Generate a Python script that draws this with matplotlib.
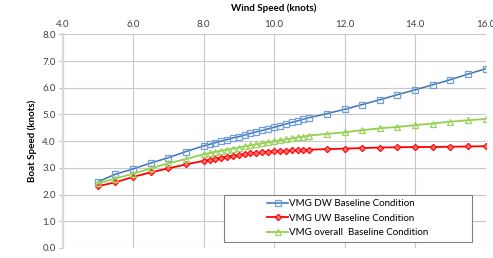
import matplotlib
matplotlib.use("Agg")
import matplotlib.pyplot as plt
from matplotlib.patches import Rectangle
from matplotlib.ticker import FormatStrFormatter, MultipleLocator

plt.rcParams["font.family"] = ["Lato", "DejaVu Sans"]

# wind speed (knots)
wind = [5.0, 5.5, 6.0, 6.5, 7.0, 7.5,
        8.0, 8.17, 8.33, 8.5, 8.67, 8.83, 9.0, 9.17, 9.33, 9.5,
        9.67, 9.83, 10.0, 10.17, 10.33, 10.5, 10.67, 10.83, 11.0,
        11.5, 12.0, 12.5, 13.0, 13.5, 14.0, 14.5, 15.0, 15.5, 16.0]

# boat speed (knots)
vmg_dw = [2.48, 2.76, 2.96, 3.18, 3.38, 3.61,
          3.82, 3.88, 3.94, 4.00, 4.06, 4.12, 4.17, 4.23, 4.29, 4.35,
          4.40, 4.46, 4.52, 4.58, 4.64, 4.70, 4.76, 4.82, 4.88,
          5.03, 5.19, 5.37, 5.55, 5.74, 5.92, 6.11, 6.30, 6.51, 6.71]

vmg_uw = [2.31, 2.46, 2.66, 2.83, 2.98, 3.13,
          3.26, 3.30, 3.34, 3.38, 3.42, 3.45, 3.48, 3.51, 3.54, 3.56,
          3.58, 3.60, 3.62, 3.63, 3.64, 3.65, 3.66, 3.67, 3.68,
          3.70, 3.72, 3.74, 3.76, 3.77, 3.78, 3.78, 3.79, 3.80, 3.81]

vmg_all = [2.42, 2.60, 2.78, 2.98, 3.17, 3.33,
           3.51, 3.55, 3.60, 3.64, 3.68, 3.72, 3.76, 3.80, 3.84, 3.88,
           3.92, 3.96, 4.00, 4.03, 4.07, 4.10, 4.14, 4.17, 4.21,
           4.27, 4.33, 4.41, 4.48, 4.53, 4.60, 4.66, 4.73, 4.78, 4.83]

labels = ["VMG DW Baseline Condition",
          "VMG UW Baseline Condition",
          "VMG overall  Baseline Condition"]

fig = plt.figure(figsize=(4.93, 2.58), dpi=100)
ax = fig.add_axes([0.127, 0.039, 0.858, 0.828])

ax.plot(wind, vmg_dw, color="#3f72b5", linewidth=1.1, marker="s",
        markersize=4.5, markerfacecolor="none", markeredgecolor="#6f9fd8",
        markeredgewidth=0.9, label=labels[0], zorder=3)
ax.plot(wind, vmg_uw, color="#ff0000", linewidth=1.3, marker="D",
        markersize=3.2, markerfacecolor="#ff7070", markeredgecolor="#ff0000",
        markeredgewidth=0.8, label=labels[1], zorder=3)
ax.plot(wind, vmg_all, color="#92d050", linewidth=1.3, marker="^",
        markersize=4.0, markerfacecolor="none", markeredgecolor="#9bd35c",
        markeredgewidth=0.9, label=labels[2], zorder=3)

ax.set_xlim(4, 16)
ax.set_ylim(0, 8)
ax.xaxis.set_major_locator(MultipleLocator(2))
ax.yaxis.set_major_locator(MultipleLocator(1))
ax.xaxis.set_major_formatter(FormatStrFormatter("%.1f"))
ax.yaxis.set_major_formatter(FormatStrFormatter("%.1f"))
ax.xaxis.tick_top()

ax.grid(True, color="#c8c8c8", linewidth=0.8)
ax.set_axisbelow(True)
for side in ["top", "right", "bottom"]:
    ax.spines[side].set_visible(False)
ax.spines["left"].set_color("#d9d9d9")
ax.spines["left"].set_linewidth(1.6)

ax.tick_params(axis="x", length=0, pad=4, labelsize=7, labelcolor="#404040")
ax.tick_params(axis="y", length=3, width=0.8, color="#bfbfbf", pad=2,
               labelsize=7, labelcolor="#404040")

fig.text(274 / 493, 1 - 8 / 258, "Wind Speed (knots)", ha="center",
         va="center", fontsize=7, fontweight="bold")
fig.text(32 / 493, 1 - 141 / 258, "Boat Speed (knots)", ha="center",
         va="center", rotation=90, fontsize=7, fontweight="bold")

# legend box
box = Rectangle((0.3815, 0.0295), 0.5855, 0.22, transform=ax.transAxes,
                facecolor="white", edgecolor="#808080", linewidth=0.8,
                zorder=4)
ax.add_patch(box)
leg = ax.legend(loc="center", bbox_to_anchor=(0.674, 0.139), frameon=False,
                fontsize=7, handlelength=2.2, handletextpad=0.1,
                labelspacing=0.55, borderpad=0)
leg.set_zorder(5)

fig.savefig("out.png", dpi=100)
